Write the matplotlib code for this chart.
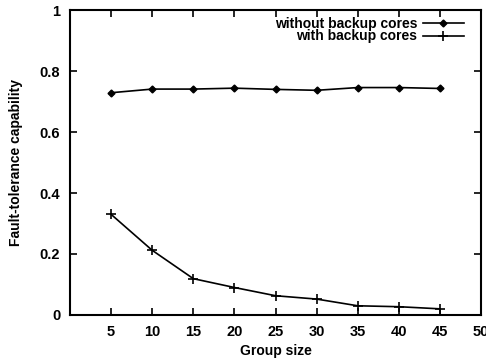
import matplotlib
matplotlib.use("Agg")
import matplotlib.pyplot as plt

# Dati
group_size = [5, 10, 15, 20, 25, 30, 35, 40, 45]
without_backup = [0.729, 0.741, 0.741, 0.744, 0.740, 0.737, 0.746, 0.746, 0.743]
with_backup = [0.330, 0.212, 0.119, 0.090, 0.063, 0.052, 0.030, 0.027, 0.020]
x_ticks = [5, 10, 15, 20, 25, 30, 35, 40, 45, 50]
y_ticks = [0, 0.2, 0.4, 0.6, 0.8, 1]
y_labels = ["0", "0.2", "0.4", "0.6", "0.8", "1"]

plt.rcParams["font.family"] = ["Liberation Sans", "DejaVu Sans"]
plt.rcParams["font.weight"] = "bold"

fig = plt.figure(figsize=(4.86, 3.62), dpi=100)
ax = fig.add_axes([0.144, 0.130, 0.846, 0.842])

ax.plot(group_size, without_backup, color="black", lw=1.2, marker="D",
        markersize=3.5, label="without backup cores")
ax.plot(group_size, with_backup, color="black", lw=1.2, marker="+",
        markersize=7, markeredgewidth=1.2, label="with backup cores")

ax.set_xlim(0, 50)
ax.set_ylim(0, 1)
ax.set_xticks(x_ticks)
ax.set_yticks(y_ticks)
ax.set_yticklabels(y_labels)
ax.tick_params(direction="in", top=True, right=True, length=5, width=1.2,
               labelsize=10.5, pad=7)
for lab in ax.get_xticklabels() + ax.get_yticklabels():
    lab.set_fontweight("bold")
for s in ax.spines.values():
    s.set_linewidth(1.5)

ax.set_xlabel("Group size", fontsize=10, fontweight="bold", labelpad=4)
ax.set_ylabel("Fault-tolerance capability", fontsize=10, fontweight="bold", labelpad=12)

# Legenda in alto a destra, testo prima del simbolo
ax.legend(loc="upper right", bbox_to_anchor=(0.959, 0.978), frameon=False,
          markerfirst=False, handlelength=3.0, handletextpad=0.4,
          borderpad=0, borderaxespad=0, labelspacing=-0.1,
          prop={"weight": "bold", "size": 10})

plt.savefig("out.png", dpi=100)
